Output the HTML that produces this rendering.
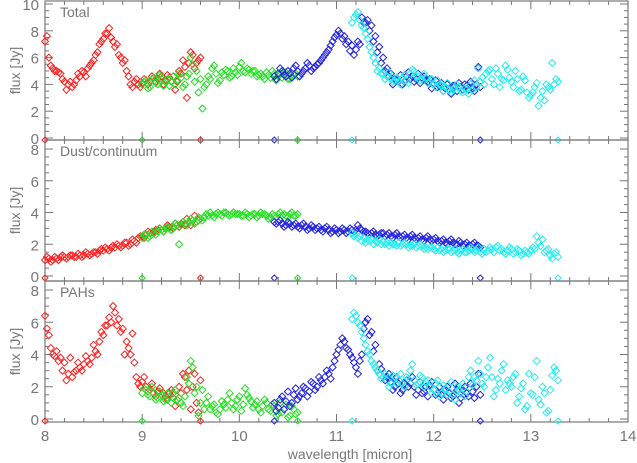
<!DOCTYPE html>
<html><head><meta charset="utf-8"><style>
html,body{margin:0;padding:0;background:#fff;}
svg{display:block;font-family:"Liberation Sans",sans-serif;}
</style></head><body>
<svg id="chart" width="637" height="463" viewBox="0 0 637 463" xmlns="http://www.w3.org/2000/svg"></svg>
<script>
// ---- data ----
const seriesNames = ["red","green","blue","cyan"];
const seriesColors = ["#ff2020","#22e022","#2222dd","#22eeee"];
const seriesStart = [8.00, 9.00, 10.36, 11.16];
const seriesEnd = [9.60, 10.60, 12.48, 13.28];
const waveStep = 0.04;
const panelTitles = ["Total","Dust/continuum","PAHs"];
const xTicks = [8,9,10,11,12,13,14];
const yTicksTotal = [0,2,4,6,8,10];
const yTicksOther = [0,2,4,6,8];

// primary samples (at start + i*step)
const totalRed = [7.2,6.0,5.2,5.0,4.8,4.2,4.0,3.8,4.3,4.6,4.9,5.2,5.6,6.2,7.0,7.4,7.8,7.5,6.8,6.2,5.6,5.0,4.0,4.2,4.0,4.1,4.3,4.2,4.5,4.4,4.6,4.3,4.5,4.6,4.2,4.8,5.3,5.6,6.2,5.6,6.0];
const totalGreen = [4.0,4.3,3.8,4.5,4.0,4.4,4.2,3.9,4.6,4.3,4.5,4.0,4.8,5.5,5.0,4.4,3.8,4.6,5.2,4.8,4.3,4.7,5.0,4.6,4.9,5.3,5.0,5.2,4.8,5.0,4.7,4.6,4.9,4.5,4.8,4.6,4.5,4.9,4.4,4.7,4.6];
const totalBlue = [4.6,4.8,5.0,4.6,4.8,5.2,5.0,4.8,5.2,5.4,5.2,5.5,5.8,6.2,6.6,7.2,7.7,7.8,7.6,7.2,6.9,6.6,7.0,8.6,8.8,8.4,7.6,6.8,6.0,5.2,4.8,4.4,4.2,4.0,4.6,4.4,4.2,4.8,4.5,4.3,4.4,4.0,3.8,4.1,3.7,3.6,3.9,3.5,3.8,4.0,3.6,3.7,4.0,3.8];
const totalCyan = [8.6,9.2,8.8,8.2,7.4,6.4,5.6,5.2,4.8,4.6,4.4,4.3,4.2,4.5,4.3,4.8,5.0,4.6,4.4,4.5,4.2,4.0,4.3,3.9,3.8,3.6,3.6,4.0,3.5,3.7,3.3,3.6,3.8,4.2,4.0,5.0,4.4,5.2,3.8,4.3,5.1,4.2,5.0,3.5,4.6,3.4,3.2,3.8,2.4,3.5,4.0,3.6,4.0,4.2];

const dustRed = [1.0,1.1,1.0,1.1,1.2,1.2,1.2,1.3,1.2,1.3,1.3,1.4,1.4,1.5,1.6,1.6,1.7,1.8,1.8,1.9,1.9,2.1,2.0,2.2,2.4,2.5,2.6,2.7,2.8,2.9,2.9,3.0,3.1,3.0,3.2,3.3,3.2,3.4,3.5,3.4,3.6];
const dustGreen = [2.4,2.6,2.5,2.7,2.8,2.9,3.0,3.0,3.1,3.2,3.2,3.3,3.4,3.5,3.4,3.6,3.7,3.8,3.8,3.9,3.9,4.0,3.9,3.9,3.9,3.9,3.8,3.9,3.8,3.9,3.8,3.9,3.8,3.7,3.8,3.9,3.8,3.8,3.9,3.8,3.9];
const dustBlue = [3.4,3.4,3.3,3.2,3.3,3.2,3.1,3.2,3.1,3.0,3.1,3.0,2.9,3.0,2.9,2.8,2.9,2.8,2.9,2.8,2.9,2.9,3.0,2.8,2.7,2.7,2.6,2.6,2.7,2.6,2.5,2.6,2.5,2.5,2.4,2.5,2.4,2.4,2.3,2.4,2.3,2.3,2.2,2.2,2.1,2.2,2.1,2.0,2.1,2.0,1.9,2.0,1.9,1.8];
const dustCyan = [2.7,2.6,2.5,2.4,2.3,2.3,2.2,2.3,2.2,2.1,2.1,2.0,2.1,2.0,2.0,1.9,2.0,1.9,1.9,1.8,1.8,1.7,1.8,1.7,1.6,1.7,1.6,1.5,1.6,1.5,1.6,1.7,1.6,1.5,1.7,1.6,1.7,1.8,1.6,1.5,1.6,1.7,1.5,1.6,1.4,1.5,1.6,1.7,2.1,2.3,1.6,1.3,1.4,1.2];

const pahRed = [6.4,5.2,4.0,4.2,3.8,3.5,2.8,2.6,3.0,3.2,3.4,3.6,3.8,4.2,4.8,5.2,5.8,6.0,6.6,6.2,5.6,4.8,4.0,3.5,2.2,2.3,2.0,1.8,1.6,1.7,1.5,1.4,1.6,1.3,1.2,1.6,2.6,3.0,2.0,1.0,2.4];
const pahGreen = [1.6,1.8,1.4,1.6,1.3,1.5,1.2,1.4,1.6,1.2,1.0,1.4,2.2,3.2,2.0,1.0,0.6,1.4,0.8,0.4,0.6,0.9,1.2,1.0,0.8,1.4,0.9,1.5,1.1,0.9,0.6,0.8,1.0,0.5,0.8,0.3,0.4,0.9,0.2,0.6,0.4];
const pahBlue = [1.0,0.7,1.4,1.1,0.8,1.5,1.2,1.6,1.9,1.7,2.2,2.0,2.4,2.6,2.8,3.2,4.0,4.6,4.8,4.3,3.8,3.2,3.6,5.6,6.2,5.4,4.6,3.4,2.6,2.6,2.3,2.0,2.2,1.8,2.4,2.2,2.0,1.8,1.6,2.0,2.1,1.8,1.6,1.5,1.8,1.6,1.4,1.8,1.3,2.0,1.4,1.7,2.0,1.5];
const pahCyan = [6.2,6.4,5.8,5.0,4.2,3.6,3.2,2.8,2.6,2.4,2.2,2.6,2.4,2.2,2.6,3.0,2.4,2.2,2.6,2.3,2.0,1.8,2.4,1.6,1.9,1.7,1.5,2.0,1.6,1.4,2.6,2.1,2.4,2.8,2.0,3.2,2.6,1.8,2.2,3.4,2.4,2.0,2.8,1.4,2.2,0.8,1.6,2.6,1.2,2.0,0.4,1.8,3.2,2.4];

// secondary samples (at start + step/2 + i*step)
const totalRed2 = [7.6,5.4,5.0,4.9,4.4,3.6,4.2,4.0,4.8,5.0,4.6,5.4,5.8,6.4,7.2,7.8,8.2,7.2,7.0,6.0,5.8,4.6,3.8,4.4,3.8,4.4,4.0,4.6,4.2,4.8,4.0,4.7,4.2,3.6,5.0,5.8,3.0,6.4,5.2,5.8];
const totalGreen2 = [4.2,3.7,4.4,4.1,4.7,3.9,4.4,4.2,4.0,4.8,3.8,4.6,6.0,4.2,3.4,2.2,4.0,4.4,5.4,4.1,4.9,5.1,4.5,5.2,4.7,5.6,4.9,5.1,5.0,4.6,4.8,4.4,4.7,5.0,4.3,4.8,4.9,4.4,4.6,4.8];
const totalBlue2 = [4.4,5.2,4.7,5.0,4.5,5.4,4.6,5.0,5.6,5.0,5.3,5.6,6.0,6.4,6.9,7.5,8.0,7.4,7.0,6.5,6.2,7.2,9.0,8.6,8.0,7.2,6.4,5.6,5.0,4.6,4.0,4.3,4.7,4.2,4.9,4.6,4.4,4.1,4.6,4.2,3.7,4.3,3.9,3.5,4.0,3.3,3.9,4.1,3.6,3.9,4.2,3.5,5.3];
const totalCyan2 = [9.0,9.4,8.4,7.8,6.8,6.0,5.0,4.8,4.4,4.9,4.2,4.5,4.0,4.7,4.1,5.1,4.6,4.3,4.8,4.1,4.4,3.8,4.0,3.5,4.1,3.4,3.8,3.8,3.4,3.6,4.0,4.3,5.2,4.5,4.8,5.1,4.0,4.8,4.4,5.4,4.5,3.8,4.4,3.6,4.3,3.0,3.4,4.1,3.0,2.8,3.8,5.6,4.4];

const dustRed2 = [1.2,0.9,1.2,1.0,1.3,1.1,1.3,1.2,1.4,1.2,1.5,1.3,1.5,1.4,1.7,1.8,1.6,1.9,2.0,1.8,2.1,1.9,2.3,2.1,2.5,2.4,2.8,2.6,2.9,3.0,2.8,3.2,2.9,3.3,3.1,3.4,3.6,3.2,3.8,3.5];
const dustGreen2 = [2.6,2.4,2.8,2.6,3.0,2.8,3.1,2.9,3.3,2.0,3.4,3.2,3.6,3.3,3.7,3.5,3.9,4.0,3.7,4.0,3.8,4.0,3.8,4.0,3.9,3.8,4.0,3.7,3.9,3.7,4.0,3.9,3.6,3.9,3.7,4.0,3.9,3.7,4.0,3.8];
const dustBlue2 = [3.3,3.5,3.1,3.4,3.1,3.3,3.0,3.3,2.9,3.2,2.9,3.1,2.8,3.1,2.7,3.0,2.7,3.0,2.7,3.0,2.8,3.2,2.9,2.8,2.6,2.8,2.5,2.7,2.5,2.7,2.4,2.7,2.4,2.6,2.3,2.6,2.3,2.5,2.2,2.5,2.2,2.4,2.1,2.3,2.0,2.3,2.0,2.2,1.9,2.1,1.8,2.1,1.9];
const dustCyan2 = [2.5,2.4,2.2,2.1,2.2,2.0,2.1,2.0,2.0,1.9,2.0,1.9,1.9,2.1,1.8,1.9,1.8,2.0,1.7,1.7,1.8,1.6,1.6,1.5,1.7,1.5,1.7,1.4,1.7,1.5,1.8,1.5,1.8,1.4,1.5,1.8,1.5,1.9,1.7,1.4,1.8,1.4,1.7,1.3,1.6,1.4,1.8,2.5,1.9,1.5,1.7,1.1,1.5];

const pahRed2 = [5.6,4.4,3.9,3.6,3.0,2.4,3.8,2.9,3.5,3.0,3.9,3.4,4.6,4.0,5.4,5.8,6.3,7.0,5.8,5.4,4.0,4.4,5.3,2.6,2.0,2.6,1.7,2.2,1.4,1.9,1.6,1.2,1.8,0.8,2.0,2.8,1.8,0.6,2.8,0.4];
const pahGreen2 = [1.9,1.5,2.0,1.2,1.7,1.1,1.6,1.0,1.8,1.3,0.8,2.6,3.6,1.6,0.2,1.8,1.0,0.6,0.9,0.3,1.1,0.7,1.6,0.6,1.2,0.5,1.9,1.3,0.7,1.1,0.4,1.2,0.6,0.9,0.2,1.0,0.6,0.1,0.8,0.3];
const pahBlue2 = [0.5,1.2,0.6,1.7,1.0,1.9,1.4,2.0,1.4,2.3,1.8,2.6,2.2,3.0,2.5,3.6,4.3,5.0,4.4,4.0,3.5,2.8,4.0,6.0,5.2,4.2,3.0,3.1,2.4,2.8,1.8,2.6,1.6,2.2,2.0,2.6,1.5,2.3,1.7,1.4,2.3,1.5,2.0,1.2,2.0,1.3,2.2,1.0,1.8,1.6,2.2,1.3,2.8];
const pahCyan2 = [6.6,6.0,5.4,4.6,4.0,3.4,3.0,2.5,2.8,2.0,2.7,2.2,2.8,2.0,2.5,3.4,2.1,2.7,2.0,2.4,1.6,2.2,1.4,2.1,1.5,2.3,1.2,1.8,2.2,1.7,3.0,2.6,3.6,2.2,2.6,3.8,1.4,2.5,3.0,1.8,2.2,2.6,1.0,1.9,0.6,2.8,1.5,3.6,0.9,1.6,0.5,2.7,3.0];

const panelData = [
  [totalRed,totalGreen,totalBlue,totalCyan],
  [dustRed,dustGreen,dustBlue,dustCyan],
  [pahRed,pahGreen,pahBlue,pahCyan]
];
const panelData2 = [
  [totalRed2,totalGreen2,totalBlue2,totalCyan2],
  [dustRed2,dustGreen2,dustBlue2,dustCyan2],
  [pahRed2,pahGreen2,pahBlue2,pahCyan2]
];

// ---- layout ----
const NS="http://www.w3.org/2000/svg";
const svg=document.getElementById('chart');
const X0=45, X1=628;
const xScale=w=>X0+(w-8)/(14-8)*(X1-X0);
const panels=[
  {top:1,bottom:140,y0:138,yTopVal:10,yTopPx:4,ticks:yTicksTotal,ymax:10},
  {top:140,bottom:281,y0:276,yTopVal:8,yTopPx:149,ticks:yTicksOther,ymax:8},
  {top:281,bottom:422,y0:419,yTopVal:8,yTopPx:290,ticks:yTicksOther,ymax:8}
];
function mk(tag,attrs,parent){const e=document.createElementNS(NS,tag);for(const k in attrs)e.setAttribute(k,attrs[k]);(parent||svg).appendChild(e);return e;}
const AX="#777";
const TXT="#777";

function diamond(parent,x,y,r){
  const d=mk('path',{d:`M${x-r},${y}L${x},${y-r}L${x+r},${y}L${x},${y+r}Z`},parent);
  
  
}

panels.forEach((p,pi)=>{
  const yScale=v=>p.y0+(v/p.yTopVal)*(p.yTopPx-p.y0);
  const g=mk('g',{});
  
  
  const fr=mk('rect',{x:X0,y:p.top,width:X1-X0,height:p.bottom-p.top,fill:'none',stroke:AX,'stroke-width':1.2},g);
  
  
  for(let v=0;v<=p.ymax+1e-9;v+=0.5){
    const y=yScale(v);
    const major=Math.abs(v-Math.round(v/2)*2)<1e-9;
    const L=major?8:4;
    mk('line',{x1:X0,y1:y,x2:X0+L,y2:y,stroke:AX},g);
    mk('line',{x1:X1,y1:y,x2:X1-L,y2:y,stroke:AX},g);
  }
  p.ticks.forEach(t=>{
    const tl=mk('text',{x:X0-6,y:yScale(t)+6,'text-anchor':'end','font-size':15,fill:TXT},g);
    tl.textContent=t;
    
    
  });
  for(let w=8;w<=14+1e-9;w+=0.2){
    const x=xScale(w);
    const major=Math.abs(w-Math.round(w))<1e-6;
    const L=major?8:4;
    mk('line',{x1:x,y1:p.bottom,x2:x,y2:p.bottom-L,stroke:AX},g);
    mk('line',{x1:x,y1:p.top,x2:x,y2:p.top+L,stroke:AX},g);
  }
  const yt=mk('text',{x:0,y:0,'text-anchor':'middle','font-size':14,fill:TXT,transform:`translate(20,${(p.top+p.bottom)/2}) rotate(-90)`},g);
  yt.textContent='flux [Jy]';
  
  
  const pt=mk('text',{x:60,y:p.top+16,'font-size':14,fill:TXT},g);
  pt.textContent=panelTitles[pi];
  
  
  panelData[pi].forEach((arr,si)=>{
    const col=seriesColors[si];
    const sg=mk('g',{fill:'none',stroke:col,'stroke-width':1},g);
    
    
    arr.forEach((v,i)=>diamond(sg,xScale(seriesStart[si]+i*waveStep),yScale(v),3.5));
    panelData2[pi][si].forEach((v,i)=>diamond(sg,xScale(seriesStart[si]+waveStep/2+i*waveStep),yScale(v),3.5));
    [seriesStart[si],seriesEnd[si]].forEach(w=>{
      const x=xScale(w), y=yScale(0)+2;
      const d=mk('path',{d:`M${x-3},${y}L${x},${y-3}L${x+3},${y}L${x},${y+3}Z`},sg);
      
      
    });
  });
});
xTicks.forEach(t=>{
  const tl=mk('text',{x:xScale(t),y:441,'text-anchor':'middle','font-size':15,fill:TXT});
  tl.textContent=t;
  
  
});
const xt=mk('text',{x:350,y:459,'text-anchor':'middle','font-size':14,fill:TXT});
xt.textContent='wavelength [micron]';


</script>
</body></html>
